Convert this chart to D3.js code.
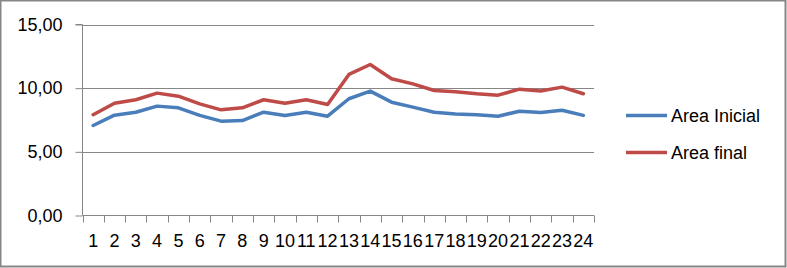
<!DOCTYPE html>
<html><head><meta charset="utf-8">
<script src="https://cdn.jsdelivr.net/npm/d3@7"></script>
<style>html,body{margin:0;padding:0;background:#fff}svg{display:block}</style>
</head><body>
<script>
const categories = ["1","2","3","4","5","6","7","8","9","10","11","12","13","14","15","16","17","18","19","20","21","22","23","24"];
const areaInicial = [7.07,7.88,8.11,8.59,8.46,7.86,7.41,7.46,8.11,7.86,8.11,7.80,9.17,9.77,8.90,8.51,8.11,7.98,7.91,7.80,8.19,8.09,8.27,7.86];
const areaFinal = [7.91,8.82,9.09,9.61,9.37,8.77,8.30,8.46,9.09,8.82,9.09,8.72,11.08,11.86,10.74,10.34,9.82,9.71,9.56,9.45,9.92,9.77,10.08,9.56];
const yTicks = [0,5,10,15];
const seriesNames = ["Area Inicial","Area final"];
const colors = ["#4a7ebb","#be4b48"];

(function(){
const W = 787, H = 268;
const svg = d3.select("body").append("svg").attr("width", W).attr("height", H);
const font = "Liberation Sans, Arial, sans-serif";

svg.append("rect").attr("x",0.5).attr("y",0.5).attr("width",W-2).attr("height",H-2)
  .attr("fill","#fff").attr("stroke","#868686").attr("stroke-width",2);

const pL = 82.5, pR = 594, pT = 24.5, pB = 215.5;
const x = d3.scaleBand().domain(categories).range([pL, pR]).padding(0);
const y = d3.scaleLinear().domain([0,15]).range([pB, pT]);

// gridlines
svg.append("g").selectAll("line").data(yTicks.filter(d=>d>0)).join("line")
  .attr("x1", pL).attr("x2", pR).attr("y1", d=>Math.round(y(d))+0.5).attr("y2", d=>Math.round(y(d))+0.5)
  .attr("stroke","#868686").attr("stroke-width",1);

// y axis
const yAxis = d3.axisLeft(y).tickValues(yTicks).tickSize(7).tickPadding(6)
  .tickFormat(d => d3.format(".2f")(d).replace(".", ","));
const gy = svg.append("g").attr("transform",`translate(${pL},0)`).call(yAxis);
gy.select(".domain").attr("stroke","#868686").attr("d",`M-7,${pT}H0V${pB}`);
gy.selectAll(".tick line").attr("stroke","#868686");
gy.selectAll(".tick text").attr("font-family",font).attr("font-size",18).attr("fill","#000").attr("dx",-7);

// x axis
const xAxis = d3.axisBottom(x).tickSize(0).tickPadding(19);
const gx = svg.append("g").attr("transform",`translate(0,${pB})`).call(xAxis);
gx.select(".domain").attr("stroke","#868686").attr("d",`M${pL},0H${pR}`);
gx.selectAll(".tick text").attr("font-family",font).attr("font-size",18).attr("fill","#000");
const bounds = categories.map(c => x(c)).concat([pR]);
svg.append("g").selectAll("line").data(bounds).join("line")
  .attr("x1", d=>Math.round(d)+0.5).attr("x2", d=>Math.round(d)+0.5)
  .attr("y1", pB).attr("y2", pB+7).attr("stroke","#868686");

// lines
const line = d3.line().x((d,i)=>x(categories[i]) + x.bandwidth()/2).y(d=>y(d));
[areaInicial, areaFinal].forEach((s,k)=>{
  svg.append("path").datum(s).attr("d", line).attr("fill","none")
    .attr("stroke", colors[k]).attr("stroke-width",3.5).attr("stroke-linejoin","round").attr("stroke-linecap","round");
});

// legend
const lg = svg.append("g");
seriesNames.forEach((n,k)=>{
  const ly = 115.5 + k*37;
  lg.append("line").attr("x1",626).attr("x2",667).attr("y1",ly).attr("y2",ly)
    .attr("stroke",colors[k]).attr("stroke-width",3.5);
  lg.append("text").attr("x",671).attr("y",ly).attr("dy","0.35em")
    .attr("font-family",font).attr("font-size",18).attr("fill","#000").text(n);
});
})();
</script>
</body></html>
